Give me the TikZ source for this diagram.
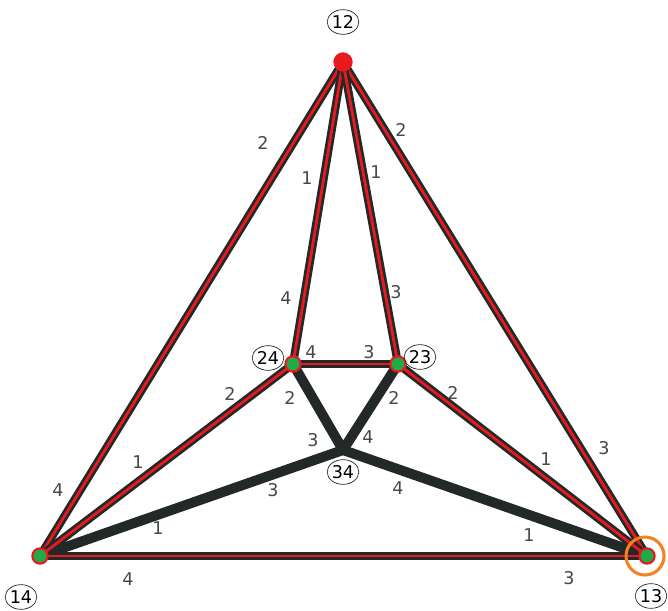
\documentclass[tikz,border=0pt]{standalone}
\usepackage{fontspec}
\setsansfont{DejaVu Sans}
\usetikzlibrary{shapes.geometric}
\definecolor{edgeblack}{HTML}{232828}
\definecolor{linered}{HTML}{E8191F}
\definecolor{dotgreen}{HTML}{21A94A}
\definecolor{ringorange}{HTML}{F5821F}
\newcommand{\vfont}{\sffamily\fontsize{15}{17}\selectfont}
\tikzset{
	redge/.style={draw=edgeblack, line width=2.3pt, double=linered, double distance=2.4pt},
	bedge/.style={draw=edgeblack, line width=8.5pt, line cap=round},
	vdot/.style={circle, fill=dotgreen, draw=linered, line width=1.8pt, minimum size=0.46cm, inner sep=0pt},
	topdot/.style={circle, fill=linered, minimum size=0.58cm, inner sep=0pt},
	vlabel/.style={ellipse, draw=edgeblack, line width=0.6pt, minimum width=0.95cm, minimum height=0.74cm, inner sep=0pt, font=\vfont},
	elabel/.style={font=\vfont, text=edgeblack!85, inner sep=0pt},
}
\begin{document}
\begin{tikzpicture}[x=0.03cm, y=-0.03cm]
	\useasboundingbox (0,0) rectangle (668,610);
	\coordinate (v12) at (343,62);
	\coordinate (v14) at (40,556);
	\coordinate (v13) at (647,556);
	\coordinate (v24) at (293,364);
	\coordinate (v23) at (398,364);
	\coordinate (v34) at (343,450);
	% black edges to the centre
	\draw[bedge] (v24) -- (v34);
	\draw[bedge] (v23) -- (v34);
	\draw[bedge] (v14) -- (v34);
	\draw[bedge] (v13) -- (v34);
	% red edges
	\draw[redge] (v12) -- (v14);
	\draw[redge] (v12) -- (v13);
	\draw[redge] (v12) -- (v24);
	\draw[redge] (v12) -- (v23);
	\draw[redge] (v24) -- (v23);
	\draw[redge] (v24) -- (v14);
	\draw[redge] (v23) -- (v13);
	\draw[redge] (v14) -- (v13);
	% vertices
	\node[topdot] (d12) at (v12) {};
	\node[vdot] (d14) at (v14) {};
	\node[vdot] (d13) at (v13) {};
	\node[vdot] (d24) at (v24) {};
	\node[vdot] (d23) at (v23) {};
	\draw[ringorange, line width=2.6pt] (v13) ++(-2,0) circle (19);
	% vertex names
	\node[vlabel] (l12) at (343,22) {12};
	\node[vlabel] (l14) at (21,597) {14};
	\node[vlabel] (l13) at (651,596) {13};
	\node[vlabel] (l24) at (268,358) {24};
	\node[vlabel] (l23) at (420,357) {23};
	\node[vlabel] (l34) at (343,472) {34};
	% edge weights
	\node[elabel] (w1) at (263,143) {2};
	\node[elabel] (w2) at (58,490) {4};
	\node[elabel] (w3) at (401,130) {2};
	\node[elabel] (w4) at (604,448) {3};
	\node[elabel] (w5) at (307,178) {1};
	\node[elabel] (w6) at (286,298) {4};
	\node[elabel] (w7) at (376,172) {1};
	\node[elabel] (w8) at (396,292) {3};
	\node[elabel] (w9) at (311,352) {4};
	\node[elabel] (w10) at (369,352) {3};
	\node[elabel] (w11) at (230,394) {2};
	\node[elabel] (w12) at (138,462) {1};
	\node[elabel] (w13) at (453,393) {2};
	\node[elabel] (w14) at (546,459) {1};
	\node[elabel] (w15) at (290,398) {2};
	\node[elabel] (w16) at (313,440) {3};
	\node[elabel] (w17) at (394,398) {2};
	\node[elabel] (w18) at (368,437) {4};
	\node[elabel] (w19) at (273,490) {3};
	\node[elabel] (w20) at (158,528) {1};
	\node[elabel] (w21) at (398,488) {4};
	\node[elabel] (w22) at (529,535) {1};
	\node[elabel] (w23) at (128,579) {4};
	\node[elabel] (w24) at (569,578) {3};
\end{tikzpicture}
\end{document}
